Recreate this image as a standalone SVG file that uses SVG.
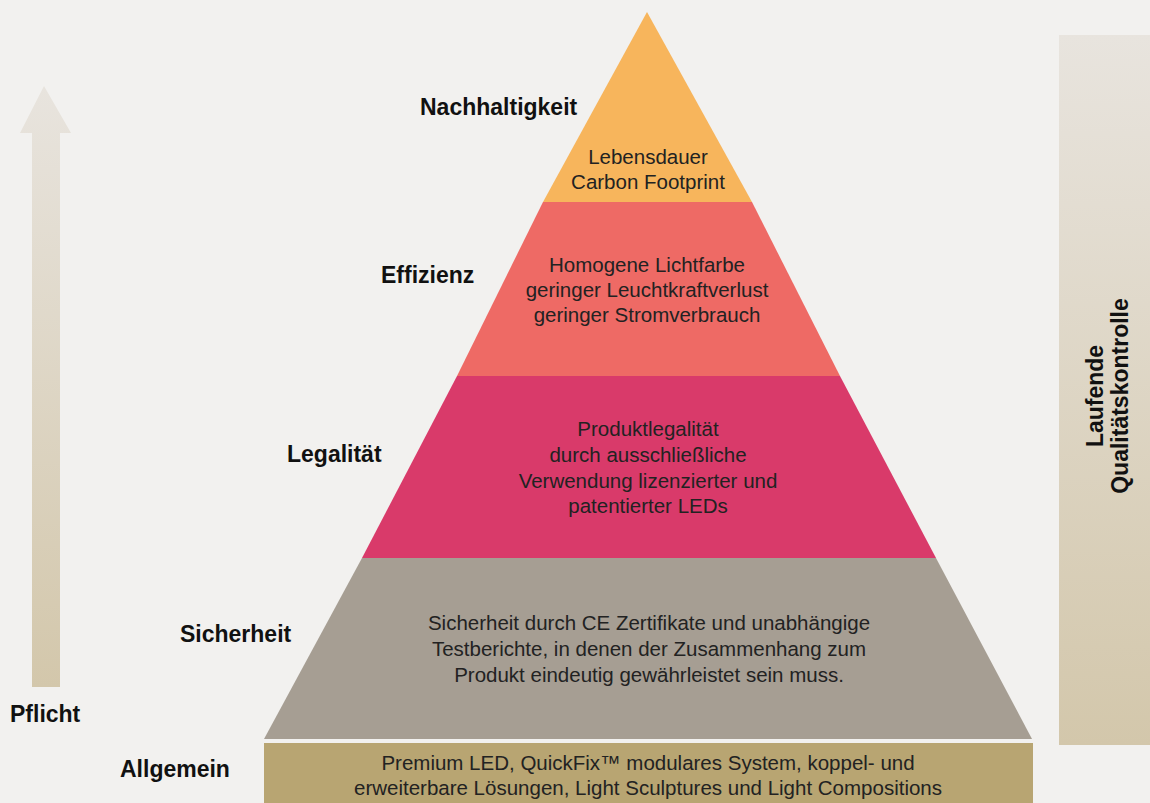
<svg xmlns="http://www.w3.org/2000/svg" width="1150" height="803" viewBox="0 0 1150 803">
<defs>
<linearGradient id="gv" x1="0" y1="0" x2="0" y2="1">
<stop offset="0" stop-color="#E8E4DE"/>
<stop offset="1" stop-color="#D3C7AB"/>
</linearGradient>
<style>
.lbl{font-family:"Liberation Sans",Arial,sans-serif;font-weight:bold;font-size:23px;fill:#111}
.txt{font-family:"Liberation Sans",Arial,sans-serif;font-size:20.5px;fill:#222;text-anchor:middle}
</style>
</defs>
<rect width="1150" height="803" fill="#F2F1EF"/>
<g id="pflicht-arrow">
<path d="M44,86 L71,133 L60,133 L60,687 L32,687 L32,133 L20,133 Z" fill="url(#gv)"/>
<text class="lbl" x="10" y="722">Pflicht</text>
</g>
<g id="qualitaetskontrolle">
<rect x="1059" y="35" width="91" height="710" fill="url(#gv)"/>
<g transform="translate(1103,396) rotate(-90)">
<text class="lbl" x="0" y="0" text-anchor="middle">Laufende</text>
<text class="lbl" x="0" y="25" text-anchor="middle">Qualitätskontrolle</text>
</g>
</g>
<g id="nachhaltigkeit">
<polygon points="647,12 752,202 543,202" fill="#F7B55C"/>
<text class="lbl" x="420" y="115">Nachhaltigkeit</text>
<text class="txt" x="648" y="164">Lebensdauer</text>
<text class="txt" x="648" y="189">Carbon Footprint</text>
</g>
<g id="effizienz">
<polygon points="543,202 752,202 840,376 457,376" fill="#EE6A65"/>
<text class="lbl" x="381" y="283">Effizienz</text>
<text class="txt" x="647" y="272">Homogene Lichtfarbe</text>
<text class="txt" x="647" y="297">geringer Leuchtkraftverlust</text>
<text class="txt" x="647" y="322">geringer Stromverbrauch</text>
</g>
<g id="legalitaet">
<polygon points="457,376 840,376 936,558 362,558" fill="#D93A6A"/>
<text class="lbl" x="287" y="462">Legalität</text>
<text class="txt" x="648" y="436">Produktlegalität</text>
<text class="txt" x="648" y="462">durch ausschließliche</text>
<text class="txt" x="648" y="488">Verwendung lizenzierter und</text>
<text class="txt" x="648" y="513">patentierter LEDs</text>
</g>
<g id="sicherheit">
<polygon points="362,558 936,558 1032,739 264,739" fill="#A69E93"/>
<text class="lbl" x="180" y="642">Sicherheit</text>
<text class="txt" x="649" y="630">Sicherheit durch CE Zertifikate und unabhängige</text>
<text class="txt" x="649" y="656">Testberichte, in denen der Zusammenhang zum</text>
<text class="txt" x="649" y="682">Produkt eindeutig gewährleistet sein muss.</text>
</g>
<g id="allgemein">
<rect x="264" y="743" width="769" height="60" fill="#B8A572"/>
<text class="lbl" x="120" y="777">Allgemein</text>
<text class="txt" x="648" y="770">Premium LED, QuickFix™ modulares System, koppel- und</text>
<text class="txt" x="648" y="795">erweiterbare Lösungen, Light Sculptures und Light Compositions</text>
</g>
<g id="connectors"/>
</svg>
